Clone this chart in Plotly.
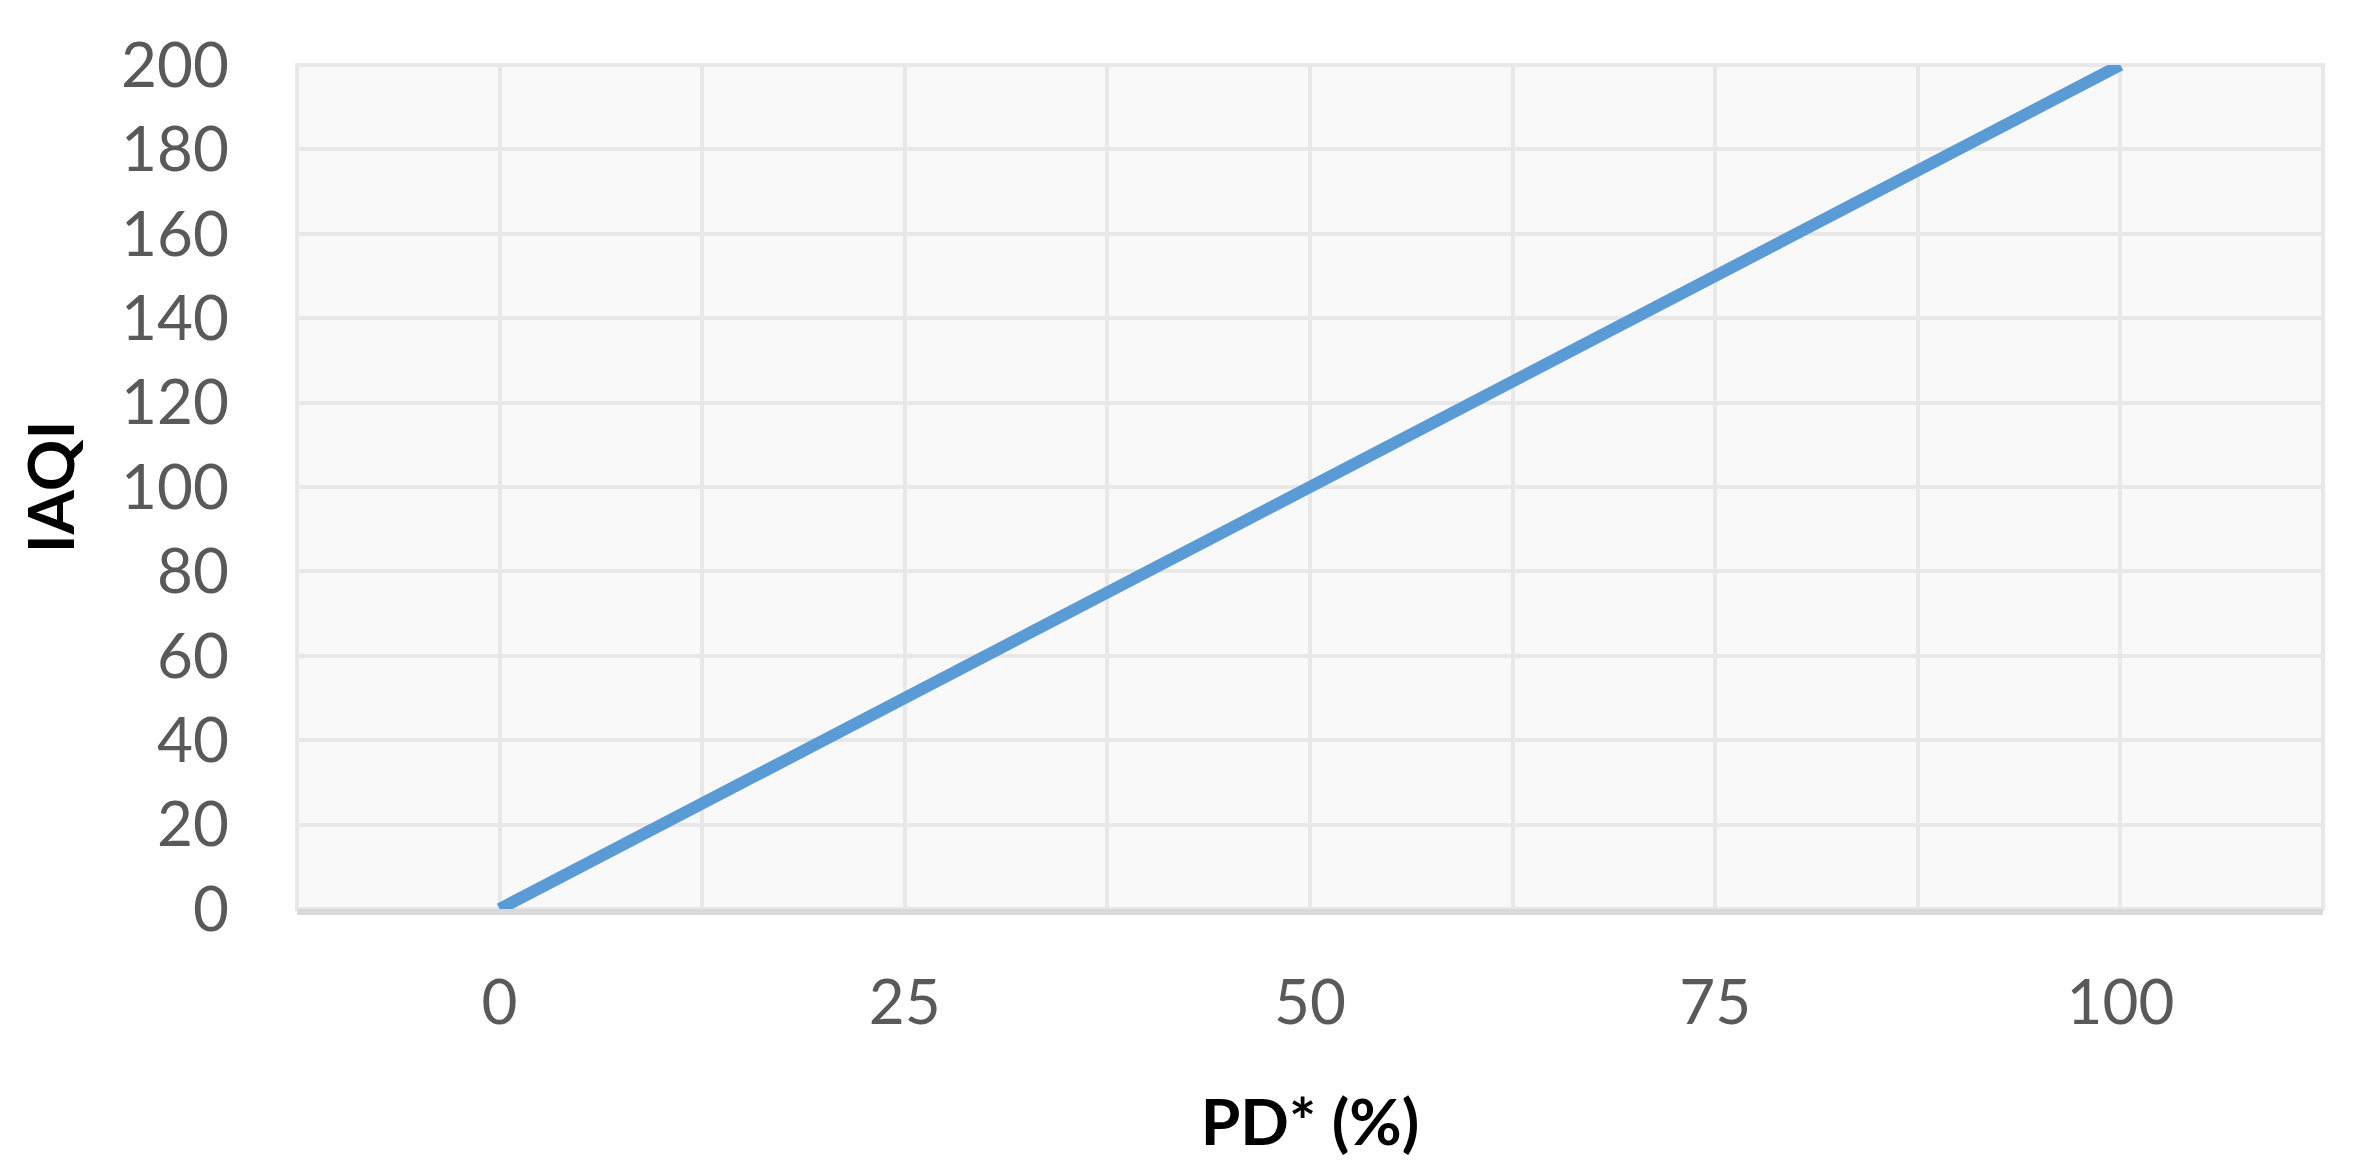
import plotly.graph_objects as go

pd_percent = [0, 25, 50, 75, 100]
iaqi = [0, 50, 100, 150, 200]
x_ticks = [0, 25, 50, 75, 100]
y_ticks = [0, 20, 40, 60, 80, 100, 120, 140, 160, 180, 200]

fig = go.Figure()
fig.add_trace(go.Scatter(
    x=pd_percent, y=iaqi, mode="lines",
    line=dict(color="#5B9BD5", width=12),
    showlegend=False,
))

font_family = "Lato, 'Open Sans', sans-serif"
grid_c = "#E8E8E8"
fig.update_layout(
    width=2361, height=1175,
    margin=dict(l=289, r=46, t=57, b=274),
    paper_bgcolor="white",
    plot_bgcolor="#F9F9F9",
    font=dict(family=font_family, color="#595959", size=62),
    xaxis=dict(
        range=[-12.5, 112.5],
        automargin=False,
        tickvals=x_ticks,
        ticktext=[str(v) for v in x_ticks],
        showgrid=True, gridcolor=grid_c, gridwidth=4,
        minor=dict(dtick=12.5, tick0=0, showgrid=True, gridcolor=grid_c, gridwidth=4),
        zeroline=False,
        showline=True, linecolor="#D9D9D9", linewidth=6,
        ticks="", ticklabelstandoff=35,
        tickfont=dict(size=62, color="#595959"),
        title=dict(text="<b>PD* (%)</b>", font=dict(size=64, color="black"), standoff=66),
    ),
    yaxis=dict(
        range=[0, 200],
        automargin=False,
        tickvals=y_ticks,
        showgrid=True, gridcolor=grid_c, gridwidth=4,
        zeroline=False,
        showline=False,
        ticks="", ticklabelstandoff=67,
        tickfont=dict(size=62, color="#595959"),
        title=dict(text="<b>IAQI</b>", font=dict(size=64, color="black"), standoff=25),
    ),
)
fig.add_shape(type="rect", xref="paper", yref="paper", x0=0, y0=0, x1=1, y1=1,
              line=dict(color=grid_c, width=4), layer="below")
fig.write_html("out.html")
